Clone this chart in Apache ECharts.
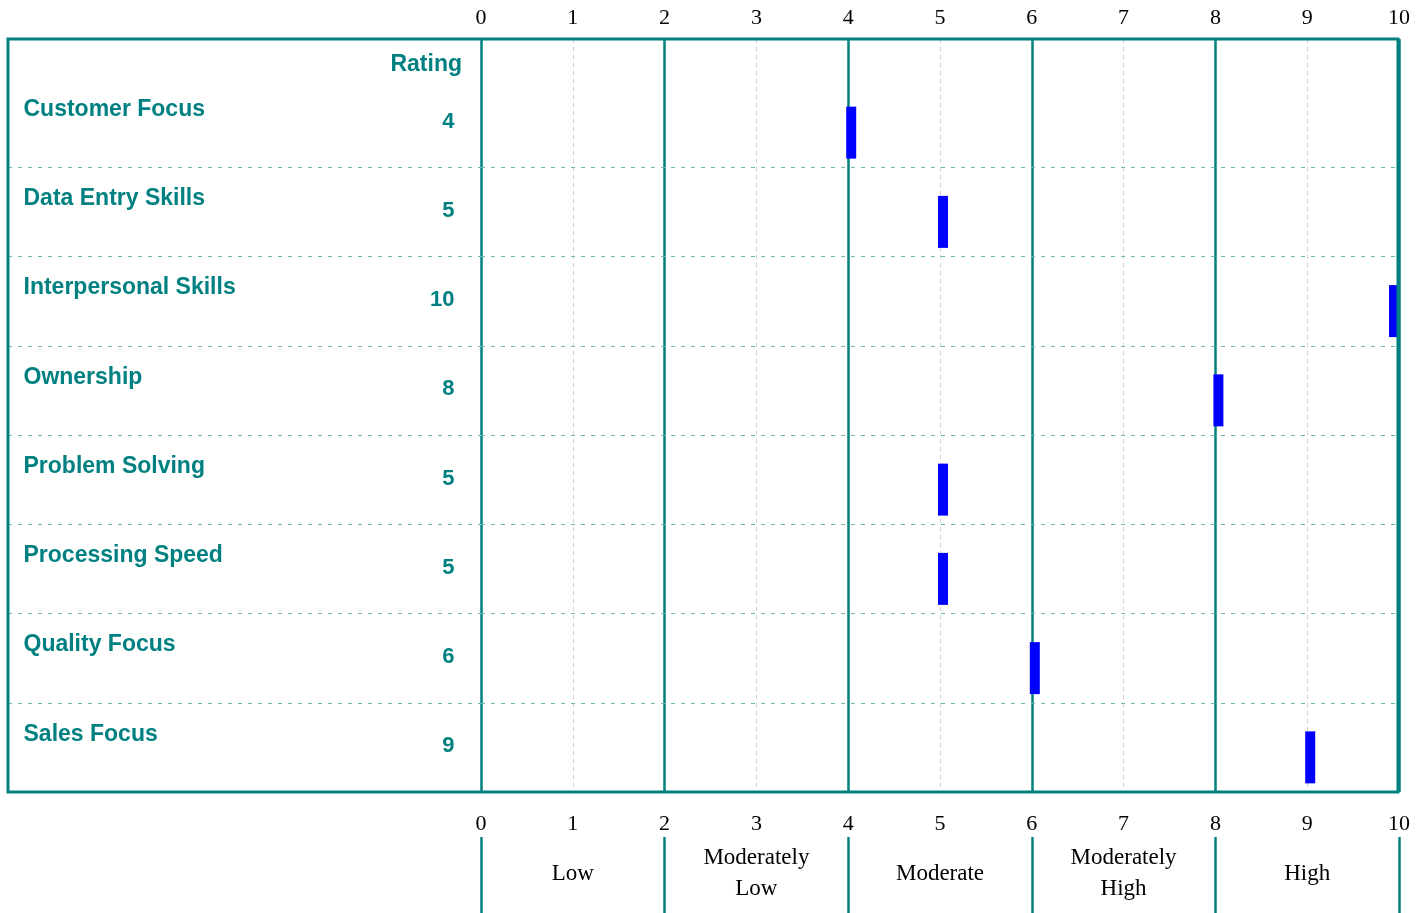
<!DOCTYPE html>
<html>
<head>
<meta charset="utf-8">
<script src="https://cdn.jsdelivr.net/npm/echarts@6/dist/echarts.min.js"></script>
<style>
  html, body { margin: 0; padding: 0; background: #fff; }
  #chart { width: 1425px; height: 913px; }
</style>
</head>
<body>
<div id="chart"></div>
<script>
// Competency ratings on a 0-10 scale
const categories = ['Customer Focus', 'Data Entry Skills', 'Interpersonal Skills', 'Ownership',
                    'Problem Solving', 'Processing Speed', 'Quality Focus', 'Sales Focus'];
const ratings = [4, 5, 10, 8, 5, 5, 6, 9];

// Rating bands along the scale
const bandEdges = [0, 2, 4, 6, 8, 10];
const bandNames = ['Low', 'Moderately\nLow', 'Moderate', 'Moderately\nHigh', 'High'];

const scaleMin = 0;
const scaleMax = 10;

const TEAL = '#008080';
const SERIF = '"Liberation Serif", "Times New Roman", serif';
const SANS = '"Liberation Sans", Arial, sans-serif';

// header strip above the first row, in row units
const headerRows = 39 / 89.25;
const yMin = -headerRows;
const yMax = categories.length;

const rowCenters = categories.map((c, i) => i + 0.5);
const rowBreaks = categories.slice(1).map((c, i) => i + 1);
const bandMids = bandNames.map((n, i) => (bandEdges[i] + bandEdges[i + 1]) / 2);

const chart = echarts.init(document.getElementById('chart'), null, { renderer: 'canvas' });

const hiddenY = (gridIndex) => ({
  type: 'value', gridIndex, inverse: true, min: yMin, max: yMax,
  show: false, splitLine: { show: false }
});

// invisible anchor points that only carry a text label
const textOnly = { color: 'rgba(0,0,0,0)', opacity: 1 };

const option = {
  animation: false,
  backgroundColor: '#ffffff',
  grid: [
    { left: 481, width: 918, top: 39, height: 753 },   // rating scale
    { left: 8, width: 473, top: 39, height: 753 },     // competency names
    { left: 481, width: 918, top: 837, height: 76 }    // band legend
  ],
  xAxis: [
    {
      type: 'value', gridIndex: 0, position: 'top', min: scaleMin, max: scaleMax, interval: 1,
      axisLine: { show: false }, axisTick: { show: false },
      axisLabel: { margin: 10, fontFamily: SERIF, fontSize: 22, color: '#000' },
      splitLine: { show: true, lineStyle: { color: '#cfcfcf', type: [4, 4], width: 1 } }
    },
    {
      type: 'value', gridIndex: 0, position: 'bottom', min: scaleMin, max: scaleMax, interval: 1,
      axisLine: { show: false }, axisTick: { show: false },
      axisLabel: { margin: 21, fontFamily: SERIF, fontSize: 22, color: '#000' },
      splitLine: { show: false }
    },
    {
      type: 'value', gridIndex: 1, min: 0, max: 1, show: false, splitLine: { show: false }
    },
    {
      type: 'value', gridIndex: 2, min: scaleMin, max: scaleMax, show: false, splitLine: { show: false }
    }
  ],
  yAxis: [
    hiddenY(0),
    hiddenY(1),
    { type: 'value', gridIndex: 2, min: 0, max: 1, show: false, splitLine: { show: false } }
  ],
  series: [
    {
      // band boundaries and row separators across the scale
      name: 'frame', type: 'scatter', xAxisIndex: 0, yAxisIndex: 0,
      data: [], silent: true,
      markLine: {
        silent: true, symbol: 'none', animation: false,
        label: { show: false },
        data: [
          ...bandEdges.map(v => ({ xAxis: v, lineStyle: { color: TEAL, type: 'solid', width: 2.5 } })),
          ...rowBreaks.map(v => ({ yAxis: v, lineStyle: { color: '#6fb5b5', type: [4, 6], width: 1.2 } }))
        ]
      },
      z: 3
    },
    {
      name: 'Rating', type: 'scatter', xAxisIndex: 0, yAxisIndex: 0,
      symbol: 'rect', symbolSize: [10, 52], clip: false,
      itemStyle: { color: '#0000ff', opacity: 1 },
      data: ratings.map((v, i) => ({
        value: [v, rowCenters[i]],
        symbolOffset: v >= scaleMax ? [-5, 10] : [3, 10]
      })),
      z: 5
    },
    {
      // row separators continue under the names
      name: 'rows', type: 'scatter', xAxisIndex: 2, yAxisIndex: 1,
      data: [], silent: true,
      markLine: {
        silent: true, symbol: 'none', animation: false,
        label: { show: false },
        lineStyle: { color: '#6fb5b5', type: [4, 6], width: 1.2 },
        data: rowBreaks.map(v => ({ yAxis: v }))
      }
    },
    {
      name: 'names', type: 'scatter', xAxisIndex: 2, yAxisIndex: 1,
      symbolSize: 1, itemStyle: textOnly, silent: true,
      data: categories.map((c, i) => [0, rowCenters[i], c]),
      label: {
        show: true, position: 'right', distance: 15, offset: [0, -13],
        formatter: p => p.value[2],
        fontFamily: SANS, fontWeight: 'bold', fontSize: 23, color: TEAL
      }
    },
    {
      name: 'values', type: 'scatter', xAxisIndex: 2, yAxisIndex: 1,
      symbolSize: 1, itemStyle: textOnly, silent: true,
      data: ratings.map((v, i) => [1, rowCenters[i], v]),
      label: {
        show: true, position: 'left', distance: 26, offset: [0, -1],
        formatter: p => String(p.value[2]),
        fontFamily: SANS, fontWeight: 'bold', fontSize: 22, color: TEAL
      }
    },
    {
      name: 'bands', type: 'scatter', xAxisIndex: 3, yAxisIndex: 2,
      symbolSize: 1, itemStyle: textOnly, silent: true,
      data: bandNames.map((n, i) => [bandMids[i], 0.52, n]),
      label: {
        show: true, position: 'inside',
        formatter: p => p.value[2],
        fontFamily: SERIF, fontSize: 23, lineHeight: 31, color: '#000'
      },
      markLine: {
        silent: true, symbol: 'none', animation: false,
        label: { show: false },
        lineStyle: { color: TEAL, type: 'solid', width: 2.5 },
        data: bandEdges.map(v => ({ xAxis: v }))
      }
    }
  ],
  graphic: [
    {
      type: 'rect', z: 100, silent: true,
      shape: { x: 8, y: 39, width: 1390, height: 753 },
      style: { fill: 'none', stroke: TEAL, lineWidth: 3 }
    },
    {
      type: 'text', z: 100, silent: true,
      x: 462, y: 65,
      style: {
        text: 'Rating', align: 'right', verticalAlign: 'middle',
        font: 'bold 23px ' + SANS, fill: TEAL
      }
    }
  ]
};

chart.setOption(option);
</script>
</body>
</html>
